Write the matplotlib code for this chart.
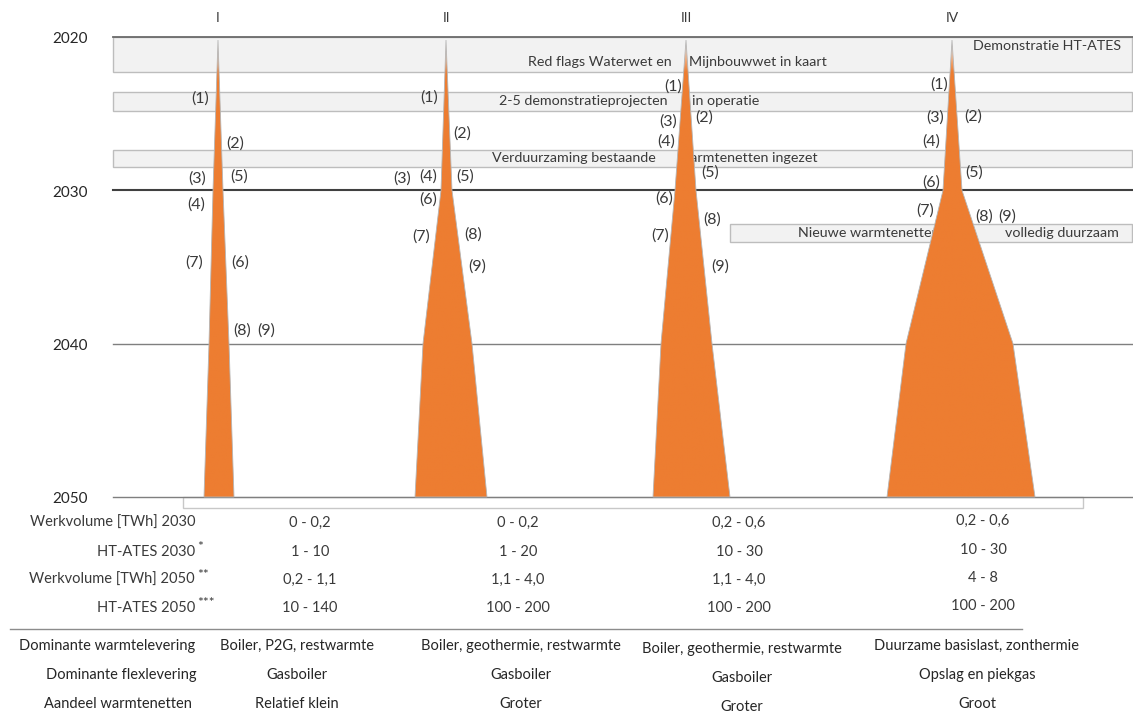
import numpy as np
import matplotlib.pyplot as plt
from matplotlib.patches import Polygon, Rectangle
from matplotlib.colors import to_rgb

plt.rcParams['font.family'] = ['Lato', 'DejaVu Sans']

W, H = 1133, 715

# timeline (years) of the four scenarios
scenarios = ['I', 'II', 'III', 'IV']
scenario_x = [218, 446, 686, 952]
years = [2020.2, 2030, 2040, 2050]
spread_left = [[0, 5, 9, 14], [0, 5, 23, 31], [0, 11, 25, 33], [0, 9, 46, 65]]
spread_right = [[0, 5, 11, 16], [0, 6, 26, 41], [0, 10, 26, 44], [0, 10, 61, 83]]

# milestone bars
bar_start = [2020.0, 2023.6, 2027.4, 2032.2]
bar_end = [2022.3, 2024.8, 2028.5, 2033.4]
bar_left = [113, 113, 113, 730]
bar_texts = [
    [('Demonstratie HT-ATES', 1121, 2020.6, 'right'),
     ('Red flags Waterwet en', 528, 2021.65, 'left'),
     ('Mijnbouwwet in kaart', 689, 2021.65, 'left')],
    [('2-5 demonstratieprojecten', 499, 2024.2, 'left'),
     ('in operatie', 692, 2024.2, 'left')],
    [('Verduurzaming bestaande', 492, 2027.9, 'left'),
     ('warmtenetten ingezet', 679, 2027.9, 'left')],
    [('Nieuwe warmtenetten', 798, 2032.8, 'left'),
     ('volledig duurzaam', 1005, 2032.8, 'left')],
]

# numbered steps per scenario (pixel positions)
step_labels = [
    [(1, 200, 99), (2, 235, 144), (3, 197, 179), (5, 239, 177), (4, 196, 205),
     (7, 194, 263), (6, 240, 263), (8, 242, 331), (9, 266, 331)],
    [(1, 429, 98), (2, 462, 134), (3, 402, 179), (4, 428, 177), (5, 465, 177),
     (6, 428, 200), (7, 421, 237), (8, 473, 235), (9, 477, 267)],
    [(1, 673, 87), (3, 668, 122), (2, 704, 118), (4, 666, 142), (5, 710, 173),
     (6, 664, 199), (8, 712, 220), (7, 660, 236), (9, 720, 267)],
    [(1, 939, 85), (3, 935, 118), (2, 973, 117), (4, 931, 142), (5, 974, 173),
     (6, 931, 183), (7, 925, 211), (8, 984, 217), (9, 1007, 217)],
]

# table below the timeline
row_labels = ['Werkvolume [TWh] 2030', 'HT-ATES 2030', 'Werkvolume [TWh] 2050', 'HT-ATES 2050']
row_marks = ['', '*', '**', '***']
table_values = [
    ['0 - 0,2', '0 - 0,2', '0,2 - 0,6', '0,2 - 0,6'],
    ['1 - 10', '1 - 20', '10 - 30', '10 - 30'],
    ['0,2 - 1,1', '1,1 - 4,0', '1,1 - 4,0', '4 - 8'],
    ['10 - 140', '100 - 200', '100 - 200', '100 - 200'],
]
desc_labels = ['Dominante warmtelevering', 'Dominante flexlevering', 'Aandeel warmtenetten']
desc_values = [
    ['Boiler, P2G, restwarmte', 'Boiler, geothermie, restwarmte', 'Boiler, geothermie, restwarmte', 'Duurzame basislast, zonthermie'],
    ['Gasboiler', 'Gasboiler', 'Gasboiler', 'Opslag en piekgas'],
    ['Relatief klein', 'Groter', 'Groter', 'Groot'],
]

ORANGE = '#ED7D31'
TXT = '#3a3a3a'

# pixel row 37 = 2020, pixel row 497 = 2050
PPY = (497 - 37) / 30.0


def yr(py):
    return 2020 + (py - 37) / PPY


fig = plt.figure(figsize=(W / 100, H / 100), dpi=100)
ax = fig.add_axes([0, 0, 1, 1])
ax.axis('off')

# milestone bars
for s, e, l, texts in zip(bar_start, bar_end, bar_left, bar_texts):
    ax.add_patch(Rectangle((l, s), 1132 - l, e - s, facecolor='#f2f2f2',
                           edgecolor='#bdbdbd', lw=1, zorder=1))
    for t, x, y, ha in texts:
        ax.text(x, y, t, ha=ha, va='center', fontsize=10.3, color=TXT, zorder=2)

# year grid
for y, c, lw in [(2020, '#6b6b6b', 1.3), (2030, '#404040', 1.5), (2040, '#7f7f7f', 1.0), (2050, '#7f7f7f', 1.0)]:
    ax.plot([113, W], [y, y], color=c, lw=lw, zorder=3)
    ax.text(70, y + 0.15, str(y), ha='center', va='center', fontsize=11, color='#262626')

# scenario shapes
rgb = to_rgb(ORANGE)
for name, cx, sl, sr in zip(scenarios, scenario_x, spread_left, spread_right):
    xs = [cx - v for v in sl] + [cx + v for v in sr[::-1]]
    ys = years + years[::-1]
    poly = Polygon(list(zip(xs, ys)), closed=True, facecolor='none',
                   edgecolor='#b5b5b5', lw=0.6, zorder=5)
    ax.add_patch(poly)
    n = 200
    grad = np.zeros((n, 1, 4))
    grad[:, 0, :3] = rgb
    yy = np.linspace(years[0], 2050, n)
    grad[:, 0, 3] = np.clip((yy - years[0]) / 2.0, 0, 1)
    im = ax.imshow(grad, extent=[cx - max(sl) - 2, cx + max(sr) + 2, 2050, years[0]],
                   aspect='auto', origin='upper', zorder=4, interpolation='bilinear')
    im.set_clip_path(poly)
    ax.text(cx, yr(18), name, ha='center', va='center', fontsize=10, color=TXT)

for labels in step_labels:
    for num, x, y in labels:
        ax.text(x, yr(y), '(%d)' % num, ha='center', va='center', fontsize=11.5, color=TXT, zorder=6)

ax.set_xlim(0, W)
ax.set_ylim(yr(H), yr(0))

# white strip below 2050
ax.add_patch(Rectangle((183, 2050), 1083 - 183, yr(508) - 2050, facecolor='white',
                       edgecolor='#c8c8c8', lw=1, zorder=2))

# table
col_x = [310, 518, 739, 983]
row_y = [523, 552, 580, 608]
for lab, mark, vals, py in zip(row_labels, row_marks, table_values, row_y):
    ax.text(195, yr(py), lab, ha='right', va='center', fontsize=10.5, color=TXT)
    if mark:
        ax.text(197, yr(py - 5), mark, ha='left', va='center', fontsize=10, color=TXT)
    for i, (v, x) in enumerate(zip(vals, col_x)):
        dy = -2 if i == 3 else 0
        ax.text(x, yr(py + dy), v, ha='center', va='center', fontsize=10.5, color=TXT)

ax.plot([10, 1022], [yr(629), yr(629)], color='#8c8c8c', lw=1)

desc_cx = [107, 121, 118]
desc_x = [297, 521, 742, 977]
desc_y = [646, 675, 704]
for lab, lx, vals, py in zip(desc_labels, desc_cx, desc_values, desc_y):
    ax.text(lx, yr(py), lab, ha='center', va='center', fontsize=10.5, color='#262626')
    for i, (v, x) in enumerate(zip(vals, desc_x)):
        dy = 3 if i == 2 else 0
        ax.text(x, yr(py + dy), v, ha='center', va='center', fontsize=10.5, color='#262626')

fig.savefig('out.png', dpi=100)
